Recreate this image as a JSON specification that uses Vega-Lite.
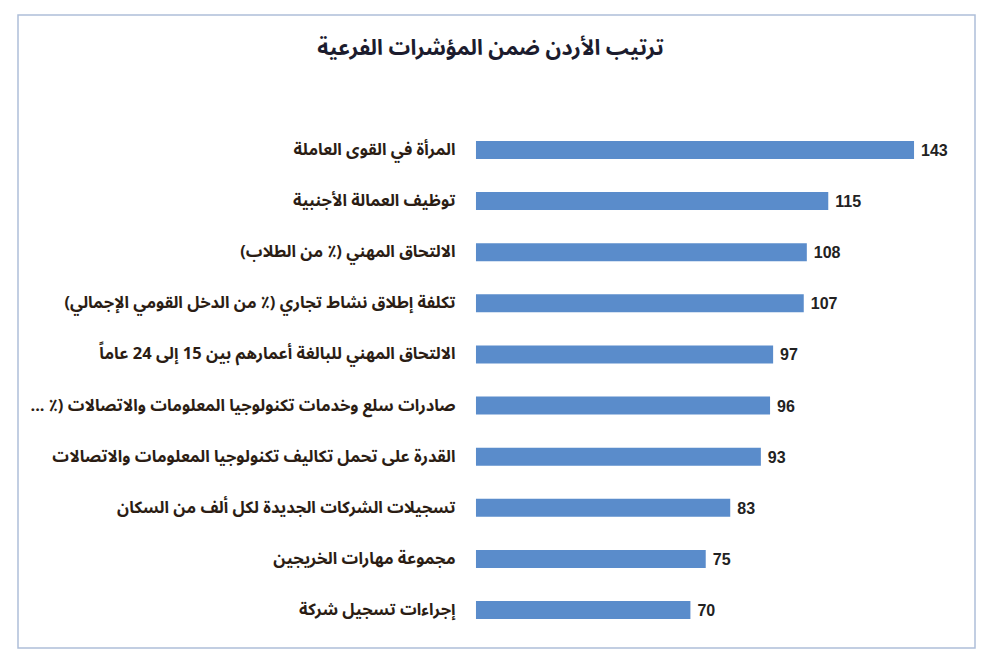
{
  "$schema": "https://vega.github.io/schema/vega-lite/v6.json",
  "width": 957,
  "height": 633,
  "autosize": {"type": "none"},
  "padding": {"left": 18, "top": 15, "right": 25, "bottom": 18},
  "background": "#ffffff",
  "title": {
    "text": "ترتيب الأردن ضمن المؤشرات الفرعية",
    "anchor": "middle",
    "orient": "top",
    "offset": -55,
    "baseline": "middle",
    "dx": -6,
    "font": "Noto Sans Arabic, Noto Naskh Arabic, DejaVu Sans",
    "fontSize": 21.5,
    "fontWeight": "bold",
    "color": "#1c1c2e"
  },
  "data": {
    "values": [
      {"indicator": "المرأة في القوى العاملة", "rank": 143},
      {"indicator": "توظيف العمالة الأجنبية", "rank": 115},
      {"indicator": "الالتحاق المهني (٪ من الطلاب)\u200f", "rank": 108},
      {"indicator": "تكلفة إطلاق نشاط تجاري (٪ من الدخل القومي الإجمالي)\u200f", "rank": 107},
      {"indicator": "الالتحاق المهني للبالغة أعمارهم بين 15 إلى 24 عاماً", "rank": 97},
      {"indicator": "صادرات سلع وخدمات تكنولوجيا المعلومات والاتصالات (٪ ...\u200f", "rank": 96},
      {"indicator": "القدرة على تحمل تكاليف تكنولوجيا المعلومات والاتصالات", "rank": 93},
      {"indicator": "تسجيلات الشركات الجديدة لكل ألف من السكان", "rank": 83},
      {"indicator": "مجموعة مهارات الخريجين", "rank": 75},
      {"indicator": "إجراءات تسجيل شركة", "rank": 70}
    ]
  },
  "encoding": {
    "y": {
      "field": "indicator",
      "type": "nominal",
      "sort": "-x",
      "scale": {"range": [126, 604], "paddingInner": 0.648, "paddingOuter": 0},
      "axis": {
        "title": null,
        "offset": -458,
        "domain": false,
        "ticks": false,
        "labelPadding": 21,
        "labelLimit": 600,
        "labelFont": "Noto Sans Arabic, Noto Naskh Arabic, DejaVu Sans",
        "labelFontSize": 16.5,
        "labelFontWeight": "bold",
        "labelColor": "#2b1d14"
      }
    },
    "x": {
      "field": "rank",
      "type": "quantitative",
      "scale": {"domain": [-149.5, 162.9], "nice": false, "zero": false},
      "axis": null
    }
  },
  "layer": [
    {
      "mark": {"type": "bar", "color": "#5a8ccb"},
      "encoding": {"x2": {"datum": 0}}
    },
    {
      "mark": {
        "type": "text",
        "align": "left",
        "baseline": "middle",
        "dx": 7,
        "dy": 1,
        "font": "Liberation Sans",
        "fontSize": 16,
        "fontWeight": "bold",
        "color": "#222222"
      },
      "encoding": {"text": {"field": "rank", "type": "quantitative"}}
    }
  ],
  "config": {
    "view": {"stroke": "#aebfd9", "strokeWidth": 1.5}
  }
}
